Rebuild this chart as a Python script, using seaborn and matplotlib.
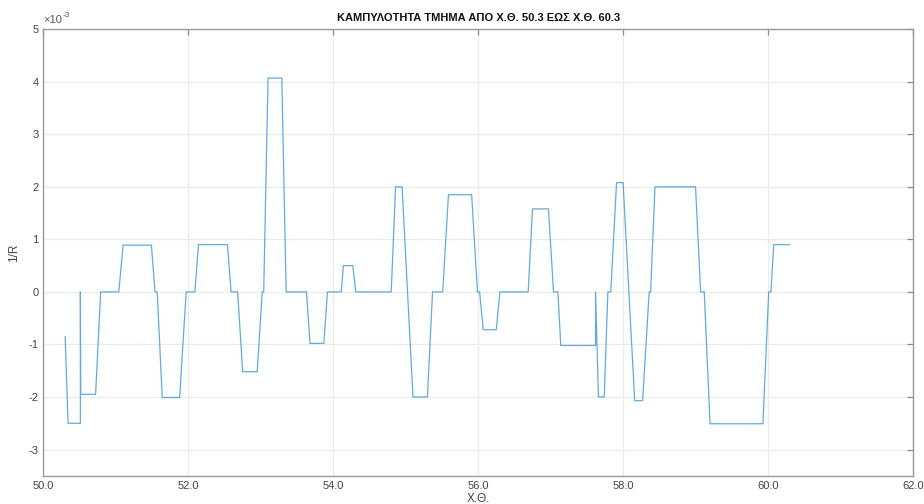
import matplotlib
matplotlib.use("Agg")
import matplotlib.pyplot as plt
import matplotlib.ticker as mticker
import numpy as np
import pandas as pd
import seaborn as sns

# Chainage (X.Θ.) breakpoints of the curvature diagram
chainage = [
    50.30, 50.34, 50.51, 50.51, 50.515, 50.72, 50.79, 51.04, 51.10, 51.49,
    51.54, 51.57, 51.64, 51.88, 51.97, 52.09, 52.14, 52.54, 52.59, 52.68,
    52.75, 52.95, 53.02, 53.04, 53.10, 53.29, 53.35, 53.63, 53.68, 53.87,
    53.92, 54.11, 54.14, 54.27, 54.31, 54.80, 54.86, 54.95, 55.10, 55.30,
    55.37, 55.51, 55.59, 55.91, 55.99, 56.02, 56.07, 56.25, 56.30, 56.69,
    56.75, 56.97, 57.04, 57.10, 57.14, 57.62, 57.62, 57.66, 57.74, 57.79,
    57.83, 57.91, 58.00, 58.16, 58.27, 58.36, 58.38, 58.44, 59.00, 59.07,
    59.12, 59.20, 59.93, 60.01, 60.04, 60.08, 60.30,
]

# Curvature 1/R in units of 1e-3 (1/m)
curvature_e3 = [
    -0.85, -2.50, -2.50, 0.00, -1.95, -1.95, 0.00, 0.00, 0.89, 0.89,
    0.00, 0.00, -2.01, -2.01, 0.00, 0.00, 0.90, 0.90, 0.00, 0.00,
    -1.52, -1.52, 0.00, 0.00, 4.07, 4.07, 0.00, 0.00, -0.98, -0.98,
    0.00, 0.00, 0.50, 0.50, 0.00, 0.00, 2.00, 2.00, -2.00, -2.00,
    0.00, 0.00, 1.85, 1.85, 0.00, 0.00, -0.72, -0.72, 0.00, 0.00,
    1.58, 1.58, 0.00, 0.00, -1.02, -1.02, 0.00, -2.00, -2.00, 0.00,
    0.00, 2.08, 2.08, -2.07, -2.07, 0.00, 0.00, 2.00, 2.00, 0.00,
    0.00, -2.51, -2.51, 0.00, 0.00, 0.90, 0.90,
]

x_ticks = [50.0, 52.0, 54.0, 56.0, 58.0, 60.0, 62.0]
y_ticks_e3 = [-3, -2, -1, 0, 1, 2, 3, 4, 5]
y_exponent = -3

scale = 10.0 ** y_exponent
df = pd.DataFrame({
    "ch": chainage,
    "k": np.array(curvature_e3) * scale,
})

sns.set_style("white")
plt.rcParams["font.family"] = ["Liberation Sans", "DejaVu Sans"]
plt.rcParams["axes.unicode_minus"] = False

fig = plt.figure(figsize=(9.24, 5.04), dpi=100)
ax = fig.add_axes([0.047, 0.056, 0.941, 0.886])

sns.lineplot(data=df, x="ch", y="k", ax=ax, sort=False, estimator=None,
             color="#3d96d2", linewidth=0.9, alpha=0.8)

ax.set_xlim(50, 62)
ax.set_ylim(-3.5 * scale, 5 * scale)
ax.set_xticks(x_ticks)
ax.set_yticks(np.array(y_ticks_e3) * scale)
ax.xaxis.set_major_formatter(mticker.FormatStrFormatter("%.1f"))
ax.yaxis.set_major_formatter(
    mticker.FuncFormatter(lambda v, pos: f"{int(round(v / scale))}")
)

# exponent marker above the y axis
ax.annotate("×10", xy=(0, 1), xycoords="axes fraction", xytext=(0, 3),
            textcoords="offset points", fontsize=8, color="#555555",
            ha="left", va="bottom")
ax.annotate(f"{y_exponent}", xy=(0, 1), xycoords="axes fraction",
            xytext=(14, 7.5), textcoords="offset points", fontsize=6,
            color="#555555", ha="left", va="bottom")

ax.grid(True, color="#ebebeb", linewidth=0.9)
ax.set_axisbelow(True)

for side in ["left", "bottom", "top", "right"]:
    ax.spines[side].set_visible(True)
    ax.spines[side].set_color("#9a9a9a")
    ax.spines[side].set_linewidth(1.0)

ax.tick_params(axis="both", which="both", direction="in", length=4,
               width=0.9, color="#8a8a8a", labelsize=8, labelcolor="#444444",
               top=True, right=True)

ax.set_title("ΚΑΜΠΥΛΟΤΗΤΑ ΤΜΗΜΑ ΑΠΟ Χ.Θ. 50.3 ΕΩΣ Χ.Θ. 60.3",
             fontsize=8, fontweight="bold", color="#111111", pad=6)
ax.set_xlabel("Χ.Θ.", fontsize=8.5, color="#444444", labelpad=2)
ax.set_ylabel("1/R", fontsize=8.5, color="#444444", labelpad=6)

fig.savefig("out.png", dpi=100)
